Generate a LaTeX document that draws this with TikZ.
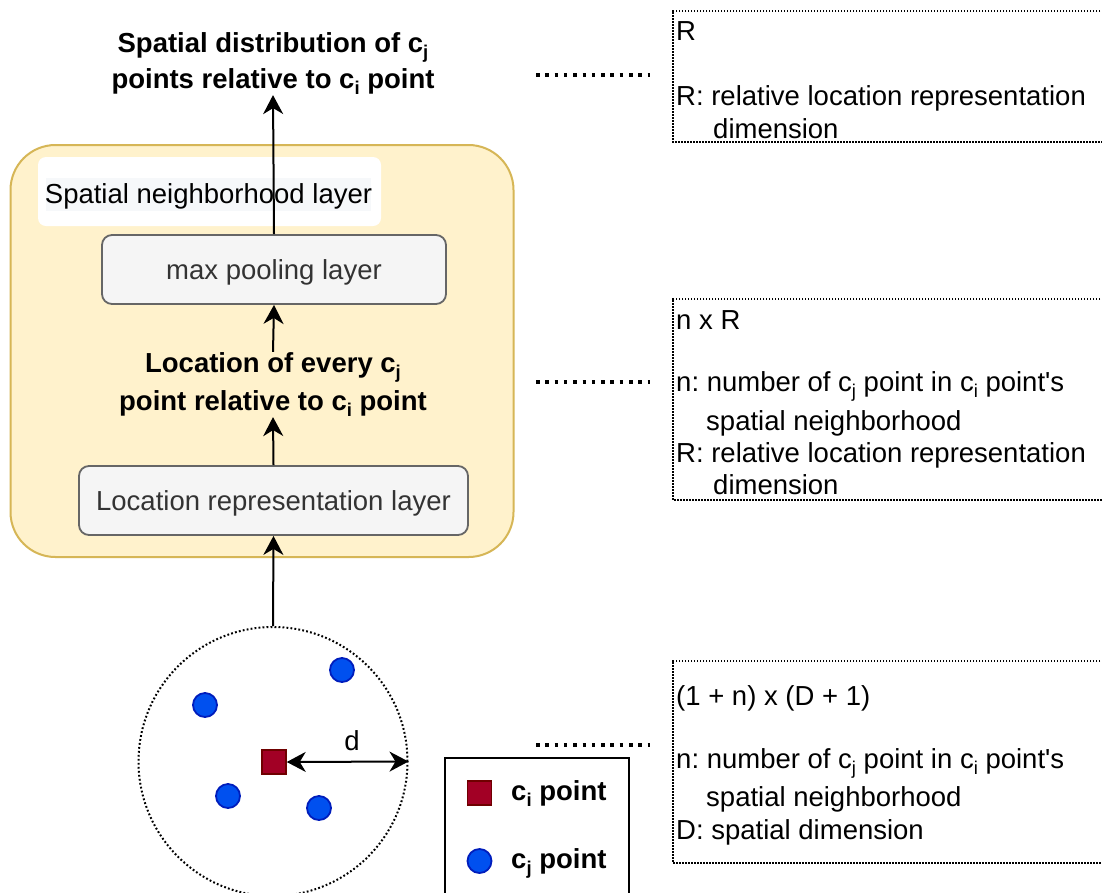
\documentclass[tikz,border=0pt]{standalone}
\usepackage{fontspec}
\setmainfont{Liberation Sans}
\usetikzlibrary{arrows.meta,shapes.geometric}
\definecolor{yfill}{HTML}{FFF2CC}
\definecolor{ydraw}{HTML}{D6B656}
\definecolor{gfill}{HTML}{F5F5F5}
\definecolor{gdraw}{HTML}{666666}
\definecolor{gtext}{HTML}{333333}
\definecolor{hl}{HTML}{F6F8FA}
\definecolor{redf}{HTML}{A20025}
\definecolor{redd}{HTML}{6F0000}
\definecolor{bluef}{HTML}{0050EF}
\definecolor{blued}{HTML}{001DBC}
\newcommand\fsz{\fontsize{27.5}{33}\selectfont}
\newcommand\mysub[1]{\raisebox{-0.25em}{\fontsize{18.5}{18.5}\selectfont #1}}
\frenchspacing
\begin{document}
\begin{tikzpicture}[x=1pt,y=-1pt,
  every node/.style={font=\fsz, inner sep=0pt},
  txt/.style={anchor=base},
  btxt/.style={anchor=base, font=\fsz\bfseries},
  ltxt/.style={anchor=base west},
  lbtxt/.style={anchor=base west, font=\fsz\bfseries},
  container/.style={draw=ydraw, fill=yfill, line width=2pt, rounded corners=45pt},
  layerbox/.style={draw=gdraw, fill=gfill, line width=1.8pt, rounded corners=10pt, text=gtext, text height=20pt, text depth=0pt},
  arr/.style={line width=2pt, -{Stealth[length=19pt,width=20pt,inset=6pt]}},
  darr/.style={line width=2pt, {Stealth[length=19pt,width=20pt,inset=6pt]}-{Stealth[length=19pt,width=20pt,inset=6pt]}},
  dimbox/.style={rectangle},
  dimline/.style={line width=1.6pt, dash pattern=on 1.6pt off 1.4pt},
  leader/.style={line width=3.5pt, dash pattern=on 3.5pt off 5.8pt},
  redsq/.style={draw=redd, fill=redf, line width=1.5pt, minimum size=24pt},
  bluedot/.style={circle, draw=blued, fill=bluef, line width=1.8pt, minimum size=24pt},
]
\useasboundingbox (0,0) rectangle (1102,892);
\fill[white] (0,0) rectangle (1102,892);

% title
\node[btxt] (title1) at (273,52) {Spatial distribution of c\mysub{j}};
\node[btxt] (title2) at (273,88) {points relative to c\mysub{i} point};

% container
\node[container, minimum width=503pt, minimum height=412pt] (sn) at (262,351) {};
\node[fill=white, rounded corners=8pt, minimum width=343pt, minimum height=69pt] (lblbox) at (209.5,191.5) {};
\node[fill=hl, minimum width=325pt, minimum height=33pt] (lblhl) at (208.5,194.5) {};
\node[txt] (lbl) at (208.5,203) {Spatial neighborhood layer};

\node[layerbox, minimum width=344pt, minimum height=69pt] (mp) at (274,269.5) {max pooling layer};
\node[layerbox, minimum width=389pt, minimum height=69pt] (lr) at (273.5,500.5) {Location representation layer};

\node[btxt] (loc1) at (273,372) {Location of every c\mysub{j}};
\node[btxt] (loc2) at (273,410) {point relative to c\mysub{i} point};

\draw[arr] (mp.north) -- (title2.south);
\draw[arr] (loc1.north) -- (mp.south);
\draw[arr] (lr.north) -- (loc2.south);

% neighborhood
\node[circle, draw, line width=2pt, dash pattern=on 1.8pt off 2.2pt, minimum size=269pt] (nb) at (273,761.5) {};
\draw[arr] (nb.north) -- (lr.south);
\node[redsq] (ci) at (274,762) {};
\node[bluedot] (cj1) at (205,705) {};
\node[bluedot] (cj2) at (342,670) {};
\node[bluedot] (cj3) at (228,796) {};
\node[bluedot] (cj4) at (319,808) {};
\draw[darr] (ci.east) -- (nb.east);
\node[txt] (dlab) at (352,750) {d};

% legend
\node[draw, line width=2pt, minimum width=184pt, minimum height=170pt] (legend) at (537,843) {};
\node[redsq] (lgsq) at (479.5,793) {};
\node[lbtxt] (lgsqt) at (511,800) {c\mysub{i} point};
\node[bluedot] (lgdot) at (479.5,861) {};
\node[lbtxt] (lgdott) at (511,868) {c\mysub{j} point};

% dimension boxes (right side runs off the page)
\node[dimbox, minimum width=460pt, minimum height=131pt] (b1) at (903,76.5) {};
\draw[dimline] (b1.north east) -- (b1.north west) -- (b1.south west) -- (b1.south east);
\node[ltxt] (b1a) at (676,40) {R};
\node[ltxt] (b1b) at (676,105) {R: relative location representation};
\node[ltxt] (b1c) at (713,138) {dimension};

\node[dimbox, minimum width=460pt, minimum height=201pt] (b2) at (903,399.5) {};
\draw[dimline] (b2.north east) -- (b2.north west) -- (b2.south west) -- (b2.south east);
\node[ltxt] (b2a) at (676,329) {n x R};
\node[ltxt] (b2b) at (676,391) {n: number of c\mysub{j} point in c\mysub{i} point\textquotesingle s};
\node[ltxt] (b2c) at (706,430) {spatial neighborhood};
\node[ltxt] (b2d) at (676,462) {R: relative location representation};
\node[ltxt] (b2e) at (713,494) {dimension};

\node[dimbox, minimum width=460pt, minimum height=202pt] (b3) at (903,762) {};
\draw[dimline] (b3.north east) -- (b3.north west) -- (b3.south west) -- (b3.south east);
\node[ltxt] (b3a) at (676,705) {(1 + n) x (D + 1)};
\node[ltxt] (b3b) at (676,768) {n: number of c\mysub{j} point in c\mysub{i} point\textquotesingle s};
\node[ltxt] (b3c) at (706,806) {spatial neighborhood};
\node[ltxt] (b3d) at (676,839) {D: spatial dimension};

% leaders
\coordinate (l1a) at (536,75); \coordinate (l1b) at (650,75);
\coordinate (l2a) at (536,382); \coordinate (l2b) at (650,382);
\coordinate (l3a) at (536,745); \coordinate (l3b) at (650,745);
\draw[leader] (l1a) -- (l1b);
\draw[leader] (l2a) -- (l2b);
\draw[leader] (l3a) -- (l3b);
\end{tikzpicture}
\end{document}
